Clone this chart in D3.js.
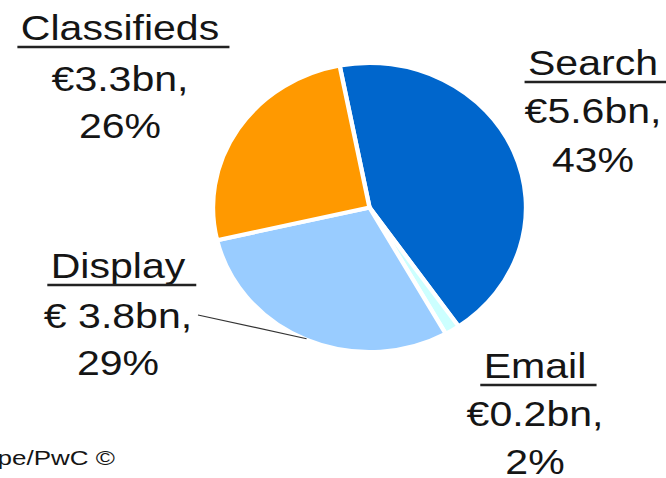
<!DOCTYPE html>
<html>
<head>
<meta charset="utf-8">
<script src="https://cdn.jsdelivr.net/npm/d3@7"></script>
<style>
  html, body { margin: 0; padding: 0; background: #fff; }
  svg { display: block; }
  text { font-family: "Liberation Sans", Arial, sans-serif; fill: #151515; }
</style>
</head>
<body>
<div id="chart"></div>
<script>
// market split
var categories = ['Search', 'Email', 'Display', 'Classifieds'];
var values = [5.6, 0.2, 3.8, 3.3];
var valueLabels = ['€5.6bn,', '€0.2bn,', '€ 3.8bn,', '€3.3bn,'];
var shareLabels = ['43%', '2%', '29%', '26%'];
var sourceText = 'Source: IAB Europe/PwC ©';

var colors = ['#0066CC', '#CCFFFF', '#99CCFF', '#FF9900'];

// where each label block sits (centre x, baselines of the 3 lines)
var labelLayout = [
    { cx: 593, y: [75, 123, 172] },
    { cx: 535, y: [378, 426, 474] },
    { cx: 118, y: [278, 328, 375] },
    { cx: 120, y: [40, 91, 138] }
];

var config = {
    width: 666,
    height: 478,
    cx: 369.5,
    cy: 207.5,
    radius: 144.5,
    stretch: 1.083,   // slide picture is a bit wider than tall
    textStretch: 1.14,
    fontSize: 36
};

function drawChart() {
    var svg = d3.select('#chart')
        .append('svg')
        .attr('width', config.width)
        .attr('height', config.height);

    var pie = d3.pie()
        .sort(null)
        .value(function(d) { return d; })
        .startAngle(-11 * Math.PI / 180)
        .endAngle((360 - 11) * Math.PI / 180);

    var arc = d3.arc()
        .innerRadius(0)
        .outerRadius(config.radius);

    var arcs = pie(values);

    var pieGroup = svg.append('g')
        .attr('transform', 'translate(' + config.cx + ',' + config.cy + ') scale(' + config.stretch + ',1)');

    pieGroup.selectAll('path')
        .data(arcs)
        .enter()
        .append('path')
        .attr('d', arc)
        .attr('fill', function(d, i) { return colors[i]; })
        .attr('stroke', '#fff')
        .attr('stroke-width', 4)
        .attr('stroke-linejoin', 'round');

    // leader line from the Display label to its slice edge
    var disp = arcs[2];
    var mid = (disp.startAngle + disp.endAngle) / 2;
    var ex = config.cx + config.stretch * Math.sin(mid) * (config.radius - 1);
    var ey = config.cy - Math.cos(mid) * (config.radius - 1);
    svg.append('line')
        .attr('x1', 198).attr('y1', 315)
        .attr('x2', ex).attr('y2', ey)
        .attr('stroke', '#333')
        .attr('stroke-width', 1.2);

    categories.forEach(function(name, i) {
        var lay = labelLayout[i];
        var lines = [name, valueLabels[i], shareLabels[i]];
        lines.forEach(function(txt, j) {
            var g = svg.append('g')
                .attr('transform', 'translate(' + lay.cx + ',' + lay.y[j] + ') scale(' + config.textStretch + ',1)');
            var t = g.append('text')
                .attr('text-anchor', 'middle')
                .attr('font-size', config.fontSize)
                .text(txt);
            if (j === 0) {
                var bb = t.node().getBBox();
                g.append('line')
                    .attr('x1', bb.x - 3)
                    .attr('x2', bb.x + bb.width + 9)
                    .attr('y1', 7).attr('y2', 7)
                    .attr('stroke', '#222')
                    .attr('stroke-width', 2.5);
            }
        });
    });

    // source note, cut by the left edge as on the slide
    svg.append('g')
        .attr('transform', 'translate(115,465) scale(1.3,1)')
        .append('text')
        .attr('text-anchor', 'end')
        .attr('font-size', 20)
        .text(sourceText);
}

document.addEventListener('DOMContentLoaded', drawChart);
</script>
</body>
</html>
